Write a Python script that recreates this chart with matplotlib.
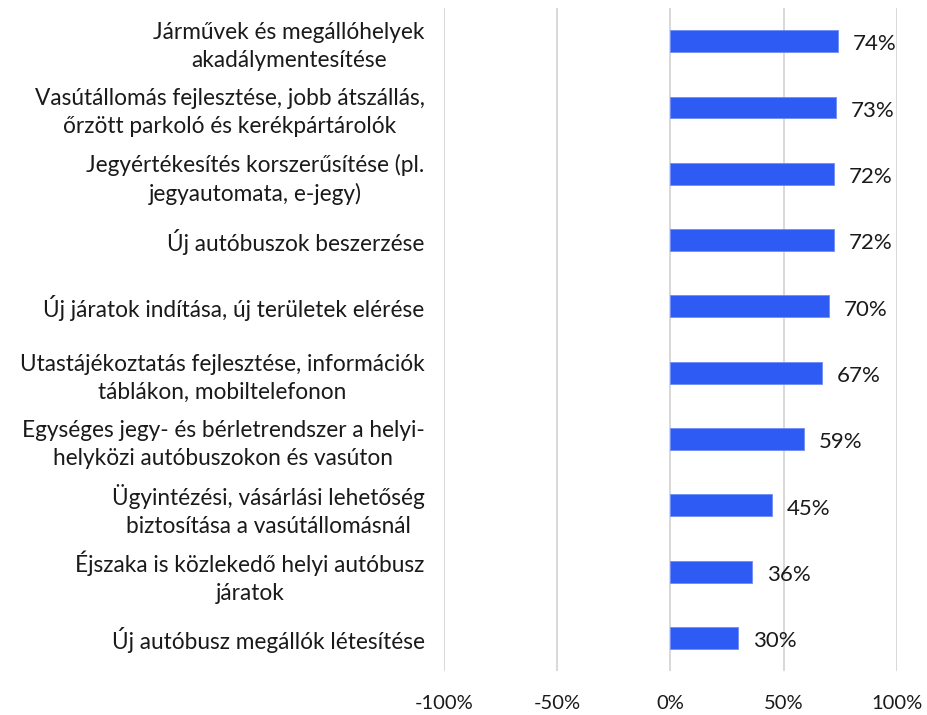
import matplotlib
matplotlib.use('Agg')
import matplotlib.pyplot as plt
import numpy as np

categories = [
    'Járművek és megállóhelyek\nakadálymentesítése',
    'Vasútállomás fejlesztése, jobb átszállás,\nőrzött parkoló és kerékpártárolók',
    'Jegyértékesítés korszerűsítése (pl.\njegyautomata, e-jegy)',
    'Új autóbuszok beszerzése',
    'Új járatok indítása, új területek elérése',
    'Utastájékoztatás fejlesztése, információk\ntáblákon, mobiltelefonon',
    'Egységes jegy- és bérletrendszer a helyi-\nhelyközi autóbuszokon és vasúton',
    'Ügyintézési, vásárlási lehetőség\nbiztosítása a vasútállomásnál',
    'Éjszaka is közlekedő helyi autóbusz\njáratok',
    'Új autóbusz megállók létesítése',
]
values = [74, 73, 72, 72, 70, 67, 59, 45, 36, 30]
xticks = [-100, -50, 0, 50, 100]

plt.rcParams['font.family'] = ['Lato', 'DejaVu Sans']

fig = plt.figure(figsize=(9.28, 7.15), dpi=100)
ax = fig.add_axes([0.4784, 0.0615, 0.4882, 0.9273])

y = np.arange(len(categories))
ax.barh(y, values, height=0.33, color='#2F5BF5', edgecolor='#6F8CF8', linewidth=0.6, zorder=3)

for yi, v in zip(y, values):
    ax.text(v + 6.5, yi + 0.05, f'{v}%', va='center', ha='left', fontsize=16, color='#1a1a1a')

ax.set_xlim(-100, 100)
ax.set_ylim(len(categories) - 0.5, -0.5)
ax.set_xticks(xticks)
ax.set_xticklabels([f'{t}%' for t in xticks], fontsize=14.5, color='#1a1a1a')
ax.set_yticks(y)
ax.set_yticklabels(categories, fontsize=16.3, color='#1a1a1a', linespacing=1.4)
for lab in ax.get_yticklabels():
    lab.set_multialignment('center')
ax.tick_params(axis='both', length=0)
ax.tick_params(axis='y', pad=14)
ax.tick_params(axis='x', pad=17)
ax.xaxis.grid(True, color='#D6D6D6', linewidth=1.3, zorder=0)
for s in ax.spines.values():
    s.set_visible(False)

fig.savefig('out.png', dpi=100)
